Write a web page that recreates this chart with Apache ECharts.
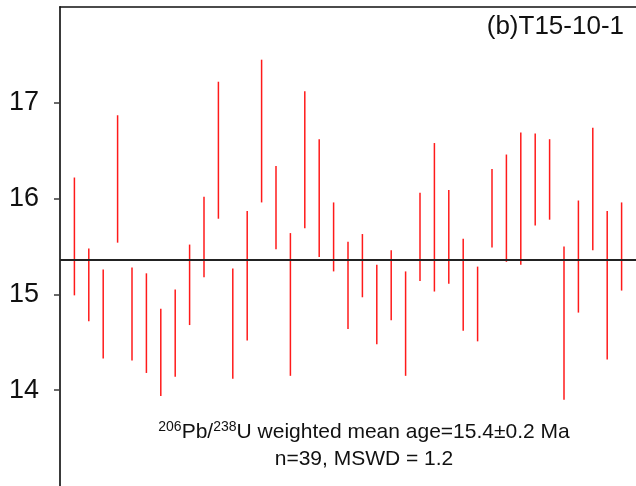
<!DOCTYPE html>
<html>
<head>
<meta charset="utf-8">
<script src="https://cdn.jsdelivr.net/npm/echarts@6/dist/echarts.min.js"></script>
<style>html,body{margin:0;padding:0;background:#fff;}#c{width:636px;height:486px;}</style>
</head>
<body>
<div id="c"></div>
<script>
// Spot number (1..39)
const spots = [1,2,3,4,5,6,7,8,9,10,11,12,13,14,15,16,17,18,19,20,21,22,23,24,25,26,27,28,29,30,31,32,33,34,35,36,37,38,39];
// Upper and lower ends of each 206Pb/238U age error bar (Ma)
const ageHigh = [16.22,15.48,15.26,16.87,15.28,15.22,14.85,15.05,15.52,16.02,17.22,15.27,15.87,17.45,16.34,15.64,17.12,16.62,15.96,15.55,15.63,15.31,15.46,15.24,16.06,16.58,16.09,15.58,15.29,16.31,16.46,16.69,16.68,16.62,15.50,15.98,16.74,15.87,15.96];
const ageLow  = [14.99,14.72,14.33,15.54,14.31,14.18,13.94,14.14,14.68,15.18,15.79,14.12,14.52,15.96,15.47,14.15,15.69,15.39,15.24,14.64,14.97,14.48,14.73,14.15,15.14,15.03,15.11,14.62,14.51,15.49,15.34,15.31,15.72,15.78,13.90,14.81,15.46,14.32,15.04];
const weightedMean = 15.36;
const yTicks = [14,15,16,17];
const sampleLabel = '(b)T15-10-1';

const barData = spots.map((s, i) => [s, ageLow[i], ageHigh[i]]);

const chart = echarts.init(document.getElementById('c'), null, {renderer: 'canvas'});
const font = '"Liberation Sans", Arial, sans-serif';
chart.setOption({
  animation: false,
  backgroundColor: '#fff',
  grid: {left: 60, top: 7, width: 578, bottom: 0, containLabel: false},
  xAxis: {
    type: 'value', min: 0, max: 40, position: 'top',
    axisLine: {show: true, lineStyle: {color: '#111', width: 1.5}},
    axisTick: {show: false}, axisLabel: {show: false}, splitLine: {show: false}
  },
  yAxis: {
    type: 'value', min: 13, max: 18, interval: 1,
    axisLine: {show: true, lineStyle: {color: '#3a3a3a', width: 2}},
    axisTick: {show: true, length: 6, customValues: yTicks, lineStyle: {color: '#3a3a3a', width: 1.5}},
    axisLabel: {show: true, customValues: yTicks, margin: 21, fontSize: 27, color: '#111', fontFamily: font},
    splitLine: {show: false}
  },
  series: [{
    type: 'custom',
    data: barData,
    renderItem: function (params, api) {
      const x = api.value(0);
      const p1 = api.coord([x, api.value(1)]);
      const p2 = api.coord([x, api.value(2)]);
      return {type: 'line', shape: {x1: p1[0], y1: p1[1], x2: p2[0], y2: p2[1]},
        style: {stroke: '#ff1a1a', lineWidth: 1.5}};
    },
    encode: {x: 0, y: [1, 2]},
    markLine: {
      silent: true, symbol: 'none', label: {show: false},
      lineStyle: {color: '#222', width: 2, type: 'solid'},
      data: [{yAxis: weightedMean}]
    },
    z: 2
  }],
  graphic: [
    {type: 'text', right: 12, top: 14,
      style: {text: sampleLabel, font: '26px ' + font, fill: '#111'}},
    {type: 'text', x: 364, y: 419,
      style: {
        text: '{sup|206}{m|Pb/}{sup|238}{m|U weighted mean age=15.4±0.2 Ma}\n{m|n=39, MSWD = 1.2}',
        align: 'center', verticalAlign: 'top', fill: '#111',
        rich: {
          m: {fontSize: 21, fontFamily: font, lineHeight: 27, fill: '#111', align: 'center'},
          sup: {fontSize: 14, fontFamily: font, lineHeight: 27, verticalAlign: 'top', padding: [1,0,0,0], fill: '#111', align: 'center'}
        }
      }}
  ]
});
</script>
</body>
</html>
